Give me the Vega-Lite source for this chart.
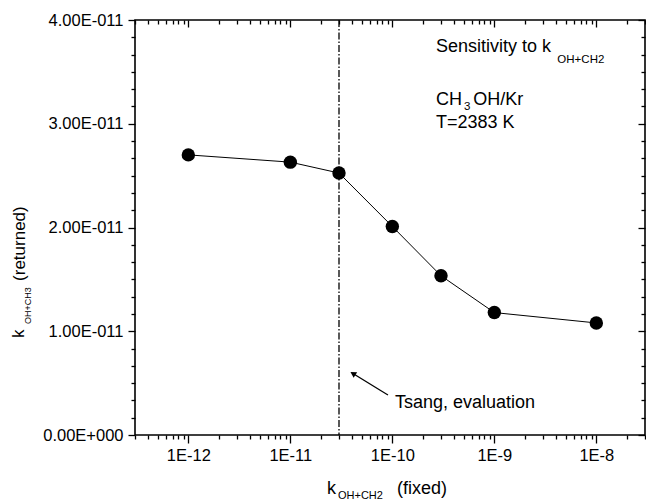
{
  "$schema": "https://vega.github.io/schema/vega-lite/v6.json",
  "width": 510,
  "height": 415,
  "autosize": "none",
  "padding": {"left": 135, "top": 20, "right": 1, "bottom": 65},
  "background": "white",
  "config": {
    "font": "Liberation Sans",
    "view": {"stroke": "black", "strokeWidth": 1.6},
    "axis": {"domain": false, "grid": false, "tickColor": "black", "tickWidth": 1.3, "labelColor": "black", "labelFont": "Liberation Sans", "labelFontSize": 16.5, "title": null}
  },
  "datasets": {
    "points": [
      {"x": 1e-12, "y": 2.70e-11},
      {"x": 1e-11, "y": 2.63e-11},
      {"x": 3e-11, "y": 2.525e-11},
      {"x": 1e-10, "y": 2.01e-11},
      {"x": 3e-10, "y": 1.535e-11},
      {"x": 1e-9, "y": 1.18e-11},
      {"x": 1e-8, "y": 1.08e-11}
    ],
    "mainText": [
      {"label": "Sensitivity to k", "x": 2.68e-10, "y": 3.74e-11},
      {"label": "CH", "x": 2.68e-10, "y": 3.23e-11},
      {"label": "OH/Kr", "x": 6.2e-10, "y": 3.23e-11},
      {"label": "T=2383 K", "x": 2.68e-10, "y": 3.01e-11},
      {"label": "Tsang, evaluation", "x": 1.06e-10, "y": 0.31e-11}
    ],
    "subText": [
      {"label": "OH+CH2", "x": 4.15e-9, "y": 3.61e-11},
      {"label": "3", "x": 5.03e-10, "y": 3.165e-11}
    ],
    "xTitleMain": [
      {"label": "k", "x": 2.29e-11, "y": -0.568e-11},
      {"label": "(fixed)", "x": 1.11e-10, "y": -0.568e-11}
    ],
    "xTitleSub": [
      {"label": "OH+CH2", "x": 2.93e-11, "y": -0.62e-11}
    ],
    "yTitleMain": [
      {"label": "k", "x": 2.19e-14, "y": 0.935e-11},
      {"label": "(returned)", "x": 2.24e-14, "y": 1.485e-11}
    ],
    "yTitleSub": [
      {"label": "OH+CH3", "x": 2.68e-14, "y": 1.07e-11}
    ],
    "vline": [{"x": 3e-11}],
    "arrow": [{"x": 9.06e-11, "y": 0.386e-11, "x2": 4.11e-11, "y2": 0.593e-11}],
    "arrowHead": [{"x": 4.11e-11, "y": 0.593e-11}]
  },
  "resolve": {"axis": {"x": "independent", "y": "independent"}},
  "layer": [
    {
      "data": {"name": "points"},
      "mark": {"type": "line", "color": "black", "strokeWidth": 1},
      "encoding": {
        "x": {"field": "x", "type": "quantitative", "scale": {"type": "log", "domain": [3e-13, 3e-8], "nice": false},
          "axis": {"orient": "bottom", "values": [1e-12, 1e-11, 1e-10, 1e-9, 1e-8], "tickSize": 8, "labelPadding": 4, "labelExpr": "'1E' + round(log(datum.value)/LN10)"}},
        "y": {"field": "y", "type": "quantitative", "scale": {"domain": [0, 4e-11], "nice": false, "zero": false},
          "axis": {"orient": "left", "values": [0, 1e-11, 2e-11, 3e-11, 4e-11], "tickSize": 7, "labelPadding": 5, "labelExpr": "datum.value === 0 ? '0.00E+000' : format(datum.value*1e11, '.2f') + 'E-011'"}}
      }
    },
    {
      "data": {"name": "points"},
      "mark": {"type": "point", "filled": true, "color": "black", "opacity": 1, "size": 180},
      "encoding": {
        "x": {"field": "x", "type": "quantitative", "scale": {"type": "log", "domain": [3e-13, 3e-8], "nice": false},
          "axis": {"orient": "bottom", "labels": false, "tickSize": 4, "values": [3e-13, 4e-13, 5e-13, 6e-13, 7e-13, 8e-13, 9e-13, 2e-12, 3e-12, 4e-12, 5e-12, 6e-12, 7e-12, 8e-12, 9e-12, 2e-11, 3e-11, 4e-11, 5e-11, 6e-11, 7e-11, 8e-11, 9e-11, 2e-10, 3e-10, 4e-10, 5e-10, 6e-10, 7e-10, 8e-10, 9e-10, 2e-9, 3e-9, 4e-9, 5e-9, 6e-9, 7e-9, 8e-9, 9e-9, 2e-8, 3e-8]}},
        "y": {"field": "y", "type": "quantitative", "scale": {"domain": [0, 4e-11], "nice": false, "zero": false},
          "axis": {"orient": "left", "labels": false, "tickSize": 4, "values": [1.6667e-12, 3.3333e-12, 5e-12, 6.6667e-12, 8.3333e-12, 1.16667e-11, 1.33333e-11, 1.5e-11, 1.66667e-11, 1.83333e-11, 2.16667e-11, 2.33333e-11, 2.5e-11, 2.66667e-11, 2.83333e-11, 3.16667e-11, 3.33333e-11, 3.5e-11, 3.66667e-11, 3.83333e-11]}}
      }
    },
    {
      "data": {"name": "mainText"},
      "mark": {"type": "text", "align": "left", "baseline": "middle", "fontSize": 18, "color": "black"},
      "encoding": {
        "x": {"field": "x", "type": "quantitative", "scale": {"type": "log", "domain": [3e-13, 3e-8], "nice": false},
          "axis": {"orient": "top", "labels": false, "tickSize": 7, "offset": -7, "values": [1e-12, 1e-11, 1e-10, 1e-9, 1e-8]}},
        "y": {"field": "y", "type": "quantitative", "scale": {"domain": [0, 4e-11], "nice": false, "zero": false},
          "axis": {"orient": "right", "labels": false, "tickSize": 7, "offset": -7, "values": [0, 1e-11, 2e-11, 3e-11, 4e-11]}},
        "text": {"field": "label"}
      }
    },
    {
      "data": {"name": "subText"},
      "mark": {"type": "text", "align": "left", "baseline": "middle", "fontSize": 11.5, "color": "black"},
      "encoding": {
        "x": {"field": "x", "type": "quantitative", "scale": {"type": "log", "domain": [3e-13, 3e-8], "nice": false},
          "axis": {"orient": "top", "labels": false, "tickSize": 4, "offset": -4, "values": [3e-13, 4e-13, 5e-13, 6e-13, 7e-13, 8e-13, 9e-13, 2e-12, 3e-12, 4e-12, 5e-12, 6e-12, 7e-12, 8e-12, 9e-12, 2e-11, 3e-11, 4e-11, 5e-11, 6e-11, 7e-11, 8e-11, 9e-11, 2e-10, 3e-10, 4e-10, 5e-10, 6e-10, 7e-10, 8e-10, 9e-10, 2e-9, 3e-9, 4e-9, 5e-9, 6e-9, 7e-9, 8e-9, 9e-9, 2e-8, 3e-8]}},
        "y": {"field": "y", "type": "quantitative", "scale": {"domain": [0, 4e-11], "nice": false, "zero": false},
          "axis": {"orient": "right", "labels": false, "tickSize": 4, "offset": -4, "values": [1.6667e-12, 3.3333e-12, 5e-12, 6.6667e-12, 8.3333e-12, 1.16667e-11, 1.33333e-11, 1.5e-11, 1.66667e-11, 1.83333e-11, 2.16667e-11, 2.33333e-11, 2.5e-11, 2.66667e-11, 2.83333e-11, 3.16667e-11, 3.33333e-11, 3.5e-11, 3.66667e-11, 3.83333e-11]}},
        "text": {"field": "label"}
      }
    },
    {
      "data": {"name": "vline"},
      "mark": {"type": "rule", "color": "black", "strokeWidth": 1.3, "strokeDash": [7, 2, 1.5, 2]},
      "encoding": {
        "x": {"field": "x", "type": "quantitative", "scale": {"type": "log", "domain": [3e-13, 3e-8], "nice": false}, "axis": null}
      }
    },
    {
      "data": {"name": "arrow"},
      "mark": {"type": "rule", "color": "black", "strokeWidth": 1.3},
      "encoding": {
        "x": {"field": "x", "type": "quantitative", "scale": {"type": "log", "domain": [3e-13, 3e-8], "nice": false}, "axis": null},
        "x2": {"field": "x2"},
        "y": {"field": "y", "type": "quantitative", "scale": {"domain": [0, 4e-11], "nice": false, "zero": false}, "axis": null},
        "y2": {"field": "y2"}
      }
    },
    {
      "data": {"name": "arrowHead"},
      "mark": {"type": "point", "shape": "triangle-up", "filled": true, "color": "black", "opacity": 1, "size": 45, "angle": 302},
      "encoding": {
        "x": {"field": "x", "type": "quantitative", "scale": {"type": "log", "domain": [3e-13, 3e-8], "nice": false}, "axis": null},
        "y": {"field": "y", "type": "quantitative", "scale": {"domain": [0, 4e-11], "nice": false, "zero": false}, "axis": null}
      }
    },
    {
      "data": {"name": "xTitleMain"},
      "mark": {"type": "text", "align": "left", "baseline": "alphabetic", "fontSize": 18, "color": "black"},
      "encoding": {
        "x": {"field": "x", "type": "quantitative", "scale": {"type": "log", "domain": [3e-13, 3e-8], "nice": false}, "axis": null},
        "y": {"field": "y", "type": "quantitative", "scale": {"domain": [0, 4e-11], "nice": false, "zero": false}, "axis": null},
        "text": {"field": "label"}
      }
    },
    {
      "data": {"name": "xTitleSub"},
      "mark": {"type": "text", "align": "left", "baseline": "alphabetic", "fontSize": 11, "color": "black"},
      "encoding": {
        "x": {"field": "x", "type": "quantitative", "scale": {"type": "log", "domain": [3e-13, 3e-8], "nice": false}, "axis": null},
        "y": {"field": "y", "type": "quantitative", "scale": {"domain": [0, 4e-11], "nice": false, "zero": false}, "axis": null},
        "text": {"field": "label"}
      }
    },
    {
      "data": {"name": "yTitleMain"},
      "mark": {"type": "text", "align": "left", "baseline": "middle", "angle": 270, "fontSize": 17, "color": "black"},
      "encoding": {
        "x": {"field": "x", "type": "quantitative", "scale": {"type": "log", "domain": [3e-13, 3e-8], "nice": false}, "axis": null},
        "y": {"field": "y", "type": "quantitative", "scale": {"domain": [0, 4e-11], "nice": false, "zero": false}, "axis": null},
        "text": {"field": "label"}
      }
    },
    {
      "data": {"name": "yTitleSub"},
      "mark": {"type": "text", "align": "left", "baseline": "middle", "angle": 270, "fontSize": 9, "color": "black"},
      "encoding": {
        "x": {"field": "x", "type": "quantitative", "scale": {"type": "log", "domain": [3e-13, 3e-8], "nice": false}, "axis": null},
        "y": {"field": "y", "type": "quantitative", "scale": {"domain": [0, 4e-11], "nice": false, "zero": false}, "axis": null},
        "text": {"field": "label"}
      }
    }
  ]
}
